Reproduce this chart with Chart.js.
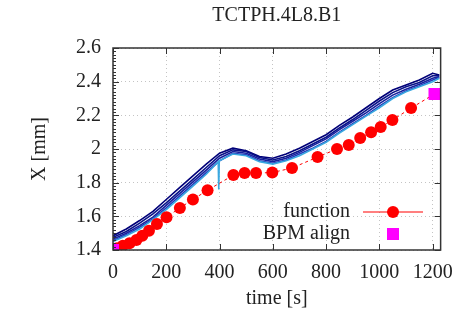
<!DOCTYPE html>
<html>
<head>
<meta charset="utf-8">
<script src="https://cdn.jsdelivr.net/npm/chart.js@4.4.0/dist/chart.umd.min.js"></script>
<style>
html, body { margin: 0; padding: 0; background: #fff; }
</style>
</head>
<body>
<canvas id="c" width="464" height="321"></canvas>
<script>
// titre et axes
const chartTitle = 'TCTPH.4L8.B1';
const xTitle = 'time [s]';
const yTitle = 'X [mm]';
const xTickValues = [0, 200, 400, 600, 800, 1000, 1200];
const yTickValues = [1.4, 1.6, 1.8, 2.0, 2.2, 2.4, 2.6];

// traces BPM (bleu)
const times = [0, 50, 100, 150, 200, 250, 300, 350, 400, 450, 500, 550, 600, 650, 700, 750, 800, 850, 900, 950, 1000, 1050, 1100, 1150, 1200, 1225];
const traceA = [1.485, 1.525, 1.575, 1.63, 1.70, 1.77, 1.84, 1.91, 1.975, 2.005, 1.99, 1.955, 1.945, 1.97, 2.005, 2.045, 2.085, 2.14, 2.19, 2.245, 2.30, 2.35, 2.38, 2.41, 2.45, 2.44];
const traceB = [1.475, 1.51, 1.56, 1.615, 1.68, 1.75, 1.82, 1.89, 1.96, 1.995, 1.985, 1.95, 1.935, 1.955, 1.99, 2.03, 2.07, 2.125, 2.175, 2.23, 2.285, 2.335, 2.37, 2.395, 2.435, 2.435];
const traceC = [1.465, 1.50, 1.545, 1.595, 1.665, 1.735, 1.805, 1.875, 1.945, 1.985, 1.975, 1.94, 1.925, 1.945, 1.98, 2.02, 2.06, 2.115, 2.165, 2.215, 2.27, 2.32, 2.355, 2.385, 2.42, 2.43];
const traceD = [1.455, 1.49, 1.535, 1.585, 1.65, 1.72, 1.79, 1.86, 1.93, 1.975, 1.965, 1.93, 1.915, 1.935, 1.97, 2.005, 2.045, 2.10, 2.15, 2.20, 2.255, 2.305, 2.345, 2.375, 2.41, 2.425];
// trace claire avec le pic vers 397 s
const traceETimes = [0, 50, 100, 150, 200, 250, 300, 350, 395, 397, 399, 450, 500, 550, 600, 650, 700, 750, 800, 850, 900, 950, 1000, 1050, 1100, 1150, 1200, 1225];
const traceE = [1.45, 1.485, 1.525, 1.58, 1.64, 1.71, 1.78, 1.85, 1.925, 1.76, 1.93, 1.97, 1.96, 1.925, 1.91, 1.93, 1.96, 2.0, 2.04, 2.095, 2.145, 2.195, 2.245, 2.30, 2.34, 2.37, 2.40, 2.42];

// "function" (points rouges)
const funcTimes = [0, 15, 37, 62, 88, 110, 135, 165, 201, 251, 300, 355, 452, 494, 537, 598, 672, 768, 841, 885, 928, 969, 1005, 1049, 1119, 1207];
const funcValues = [1.40, 1.41, 1.425, 1.44, 1.46, 1.485, 1.515, 1.555, 1.595, 1.65, 1.70, 1.755, 1.845, 1.857, 1.857, 1.86, 1.887, 1.952, 2.0, 2.024, 2.065, 2.10, 2.13, 2.172, 2.243, 2.327];

// "BPM align" (carrés magenta)
const bpmTimes = [0, 1207];
const bpmValues = [1.40, 2.327];

const toXY = (xs, ys) => xs.map((t, i) => ({ x: t, y: ys[i] }));
const serif = 'Liberation Serif, Times New Roman, serif';
const textColor = '#222';
const fontSize = 20;

// cadre, petites graduations, titre et légende
const framePlugin = {
  id: 'frame',
  afterDraw(chart) {
    const { ctx, chartArea: a, scales } = chart;
    const x = scales.x, y = scales.y;
    ctx.save();
    ctx.strokeStyle = '#333';
    ctx.lineWidth = 1;
    // graduations mineures à gauche
    for (let v = 1.4; v <= 2.6001; v += 0.02) {
      const py = Math.round(y.getPixelForValue(v)) + 0.5;
      ctx.beginPath(); ctx.moveTo(a.left, py); ctx.lineTo(a.left + 3, py); ctx.stroke();
    }
    // graduations majeures
    y.ticks.forEach(t => {
      const py = Math.round(y.getPixelForValue(t.value)) + 0.5;
      ctx.beginPath(); ctx.moveTo(a.left, py); ctx.lineTo(a.left + 6, py); ctx.stroke();
      ctx.beginPath(); ctx.moveTo(a.right, py); ctx.lineTo(a.right - 6, py); ctx.stroke();
    });
    x.ticks.forEach(t => {
      const px = Math.round(x.getPixelForValue(t.value)) + 0.5;
      ctx.beginPath(); ctx.moveTo(px, a.bottom); ctx.lineTo(px, a.bottom - 6); ctx.stroke();
      ctx.beginPath(); ctx.moveTo(px, a.top); ctx.lineTo(px, a.top + 6); ctx.stroke();
    });
    ctx.lineWidth = 1.5;
    ctx.strokeRect(a.left, a.top, a.right - a.left, a.bottom - a.top);

    // titre
    ctx.fillStyle = textColor;
    ctx.font = fontSize + 'px ' + serif;
    ctx.textAlign = 'center';
    ctx.textBaseline = 'middle';
    ctx.fillText(chartTitle, (a.left + a.right) / 2, 16);

    // légende
    const lx = a.left + 237, ly = a.top + 164;
    ctx.textAlign = 'right';
    ctx.fillText('function', lx, ly);
    ctx.fillText('BPM align', lx, ly + 22);
    ctx.strokeStyle = '#ff0000';
    ctx.lineWidth = 1.2;
    ctx.beginPath(); ctx.moveTo(lx + 13, ly); ctx.lineTo(lx + 73, ly); ctx.stroke();
    ctx.fillStyle = '#ff0000';
    ctx.beginPath(); ctx.arc(lx + 43, ly, 6, 0, Math.PI * 2); ctx.fill();
    ctx.fillStyle = '#ff00ff';
    ctx.fillRect(lx + 37, ly + 16, 12, 12);
    ctx.restore();
  }
};

const blueSet = (data, color) => ({
  data: data,
  showLine: true,
  borderColor: color,
  borderWidth: 1.6,
  pointRadius: 0,
  tension: 0,
  order: 3
});

new Chart(document.getElementById('c'), {
  type: 'scatter',
  data: {
    datasets: [
      {
        label: 'BPM align',
        data: toXY(bpmTimes, bpmValues),
        pointStyle: 'rect',
        pointRadius: 8.5,
        backgroundColor: '#ff00ff',
        borderWidth: 0,
        showLine: false,
        order: 1
      },
      {
        label: 'function',
        data: toXY(funcTimes, funcValues),
        showLine: true,
        borderColor: '#ff0000',
        borderWidth: 1,
        borderDash: [3, 3],
        backgroundColor: '#ff0000',
        pointBorderWidth: 0,
        pointRadius: funcTimes.map((t, i) => i === funcTimes.length - 1 ? 0 : 6),
        order: 2
      },
      blueSet(toXY(traceETimes, traceE), '#3aa8e0'),
      blueSet(toXY(times, traceD), '#2238b8'),
      blueSet(toXY(times, traceC), '#15209c'),
      blueSet(toXY(times, traceB), '#0a1288'),
      blueSet(toXY(times, traceA), '#000078')
    ]
  },
  options: {
    responsive: false,
    animation: false,
    layout: { padding: { top: 48, right: 15, left: 0, bottom: 0 } },
    plugins: { legend: { display: false }, tooltip: { enabled: false } },
    scales: {
      x: {
        type: 'linear',
        min: 0,
        max: 1230,
        afterFit: s => { s.height = 71; },
        afterBuildTicks: s => { s.ticks = xTickValues.map(v => ({ value: v })); },
        ticks: { color: textColor, font: { family: serif, size: fontSize }, padding: 11, maxRotation: 0, callback: v => String(v) },
        grid: { color: '#c4c4c4', drawTicks: false, lineWidth: 1 },
        border: { display: false, dash: [1, 3] },
        title: { display: true, text: xTitle, color: textColor, font: { family: serif, size: fontSize }, padding: { top: 0, bottom: 10 } }
      },
      y: {
        min: 1.4,
        max: 2.6,
        afterFit: s => { s.width = 113; },
        afterBuildTicks: s => { s.ticks = yTickValues.map(v => ({ value: v })); },
        ticks: { color: textColor, font: { family: serif, size: fontSize }, padding: 12, callback: v => String(+v.toFixed(1)) },
        grid: { color: '#c4c4c4', drawTicks: false, lineWidth: 1 },
        border: { display: false, dash: [1, 3] },
        title: { display: true, text: yTitle, color: textColor, font: { family: serif, size: fontSize }, padding: { top: 28, bottom: 0 } }
      }
    }
  },
  plugins: [framePlugin]
});
</script>
</body>
</html>
